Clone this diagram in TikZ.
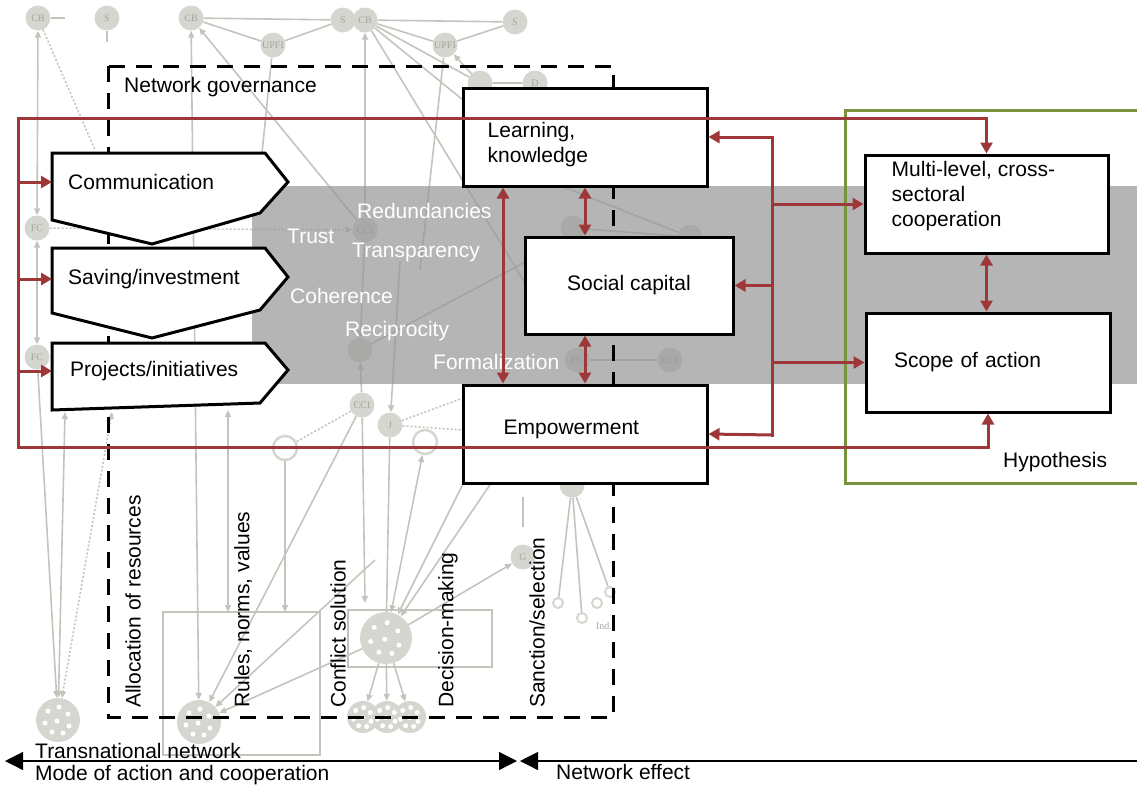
\documentclass[tikz,border=0pt]{standalone}
\usepackage{fontspec}
\setmainfont{Liberation Sans}
\newfontfamily\netfont{Liberation Serif}
\usetikzlibrary{arrows.meta}

\definecolor{netred}{RGB}{158,56,56}
\definecolor{hypgreen}{RGB}{119,147,60}
\definecolor{netgray}{RGB}{196,196,188}
\definecolor{netfill}{RGB}{214,214,208}
\definecolor{nettext}{RGB}{165,165,158}
\definecolor{bandgray}{RGB}{150,150,150}

\tikzset{
  netline/.style={draw=netgray, line width=1.6pt, >={Triangle[length=7pt,width=6pt]}},
  netdots/.style={netline, dash pattern=on 2pt off 2pt},
  netnode/.style={circle, fill=netfill, minimum size=25pt, inner sep=0pt, text=nettext, font=\netfont\fontsize{10}{10}\selectfont},
  netring/.style={circle, draw=netfill, line width=2.5pt, fill=white, minimum size=24pt, inner sep=0pt},
  netblob/.style={circle, fill=netfill, inner sep=0pt},
  govbox/.style={draw, line width=3pt, dash pattern=on 16pt off 11pt},
  pent/.style={draw, line width=3pt, fill=white, line join=miter},
  pentlabel/.style={anchor=west, inner xsep=16pt, inner ysep=0pt},
  effbox/.style={draw, line width=3pt, fill=white, minimum width=244pt, minimum height=98pt, inner sep=0pt},
  boxtext/.style={anchor=west, align=left, inner sep=0pt},
  redline/.style={draw=netred, line width=3pt, >={Triangle[length=11pt,width=12pt]}},
  hypline/.style={draw=hypgreen, line width=3pt},
  bandtext/.style={text=white, anchor=west, inner sep=0pt},
  vlabel/.style={rotate=90, anchor=west, inner sep=0pt},
  lefttext/.style={anchor=west, inner sep=0pt},
  scaleaxis/.style={line width=1.2pt, >={Triangle[length=18pt,width=18pt]}},
}

\begin{document}
\begin{tikzpicture}[x=1pt, y=-1pt, font=\fontsize{21}{25}\selectfont]
  \useasboundingbox (0,0) rectangle (1137,785);
  \clip (0,0) rectangle (1137,785);

  % Faded network in the background
  \node[netnode] (CBa) at (38,18) {CB};
  \node[netnode] (Sa) at (107,18) {S};
  \node[netnode] (CBb) at (191,18) {CB};
  \node[netnode] (UPa) at (273,45) {UPFI};
  \node[netnode] (Sb) at (343,20) {S};
  \node[netnode] (CBc) at (365,20) {CB};
  \node[netnode] (UPb) at (445,45) {UPFI};
  \node[netnode] (Sc) at (515,22) {S};
  \node[netnode] (UE) at (480,83) {};
  \node[netnode] (Da) at (535,83) {D};
  \node[netnode] (FCa) at (37,228) {FC};
  \node[netnode] (FCb) at (37,357) {FC};
  \node[netnode] (CCa) at (365,230) {CCI};
  \node[netnode] (FCc) at (360,350) {};
  \node[netnode] (CCb) at (362,405) {CCI};
  \node[netnode] (Ja) at (390,425) {J};
  \node[netring] (Ra) at (285,448) {};
  \node[netring] (Rb) at (425,442) {};
  \node[netnode] (Ga) at (523,557) {G};
  \node[netnode] (Ka) at (573,228) {};
  \node[netnode] (Kb) at (690,237) {};
  \node[netnode] (FCd) at (577,360) {FC};
  \node[netnode] (CCc) at (670,360) {CCI};
  \node[netnode] (Kc) at (572,485) {};
  \node[netring, minimum size=10pt, line width=2pt] (Ia) at (558,603) {};
  \node[netring, minimum size=10pt, line width=2pt] (Ib) at (582,618) {};
  \node[netring, minimum size=10pt, line width=2pt] (Ic) at (610,592) {};
  \node[netring, minimum size=10pt, line width=2pt] (Id) at (597,603) {};
  \node[text=nettext, font=\netfont\fontsize{10}{10}\selectfont] (IND) at (604,626) {Ind.};
  \node[netblob, minimum size=44pt] (BA) at (58,720) {};
  \node[netblob, minimum size=44pt] (BB) at (199,722) {};
  \node[netblob, minimum size=52pt] (BC) at (386,638) {};
  \node[netblob, minimum size=32pt] (BD) at (363,717) {};
  \node[netblob, minimum size=32pt] (BE) at (387,717) {};
  \node[netblob, minimum size=32pt] (BF) at (410,717) {};
  \foreach \b/\r in {BA/22,BB/22,BC/26,BD/16,BE/16,BF/16}
    \foreach \dx/\dy in {-10/-9,1/-13,10/-6,-13/3,-1/1,11/6,-6/12,5/13}
      \fill[white] (\b) ++(\dx*\r/22,\dy*\r/22) circle (2.5pt);

  \coordinate (ea) at (65,18);
  \coordinate (eb) at (107,42);
  \coordinate (ec) at (95,150);
  \coordinate (ed) at (262,153);
  \coordinate (ee) at (420,270);
  \coordinate (ef) at (463,100);
  \coordinate (eg) at (470,150);
  \coordinate (eh) at (525,283);
  \coordinate (ei) at (525,262);
  \coordinate (ej) at (65,412);
  \coordinate (ek) at (112,412);
  \coordinate (el) at (228,410);
  \coordinate (em) at (228,612);
  \coordinate (en) at (285,612);
  \coordinate (eo) at (365,603);
  \coordinate (ep) at (400,262);
  \coordinate (eq) at (470,470);
  \coordinate (er) at (500,470);
  \coordinate (es) at (375,560);
  \coordinate (et) at (523,497);
  \coordinate (eu) at (523,527);
  \coordinate (ev) at (463,398);
  \coordinate (ew) at (463,430);

  \draw[netline] (163,612) rectangle (320,755);
  \draw[netline] (348,610) rectangle (492,667);

  \draw[netline] (CBa) -- (ea);
  \draw[netline] (Sa) -- (eb);
  \draw[netdots] (CBa) -- (ec);
  \draw[netline] (CBb) -- (Sb);
  \draw[netline] (CBb) -- (UPa) -- (Sb);
  \draw[netline] (UPa) -- (ed);
  \draw[netline] (CBc) -- (Sc);
  \draw[netline] (CBc) -- (UPb) -- (Sc);
  \draw[netline] (UPb) -- (ee);
  \draw[netline] (CBc) -- (UE) -- (Da);
  \draw[netline,->] (UE) -- (UPb);
  \draw[netline] (CBc) -- (ef);
  \draw[netline] (CBc) -- (eh);
  \draw[netline] (eg) -- (Kb);
  \draw[netline] (ei) -- (FCc);
  \draw[netline] (FCd) -- (CCc);
  \draw[netline] (Ka) -- (Kb);
  \draw[netline,<->] (FCa) -- (CBa);
  \draw[netline,<->] (FCa) -- (FCb);
  \draw[netline,->] (FCb) -- (BA);
  \draw[netline,<->] (ej) -- (BA);
  \draw[netdots,<->] (ek) -- (BA);
  \draw[netdots,->] (FCa) -- (CCa);
  \draw[netline,->] (CCa) -- (CBb);
  \draw[netline,->] (CCa) -- (CBc);
  \draw[netline,->] (CCa) -- (FCc);
  \draw[netline,->] (CCb) -- (FCc);
  \draw[netline,<->] (CBb) -- (BB);
  \draw[netline,<->] (el) -- (em);
  \draw[netline,->] (Ra) -- (en);
  \draw[netdots] (CCb) -- (Ra);
  \draw[netline,->] (CCb) -- (BB);
  \draw[netline,->] (CCb) -- (eo);
  \draw[netline,->] (ep) -- (Ja);
  \draw[netdots] (Ja) -- (ev);
  \draw[netdots] (Ja) -- (ew);
  \draw[netline] (Ja) -- (BC);
  \draw[netline,<->] (BC) -- (Rb);
  \draw[netline,->] (BC) -- (Ga);
  \draw[netline,->] (eq) -- (BC);
  \draw[netline,->] (er) -- (BC);
  \draw[netline,->] (BC) -- (BB);
  \draw[netline,->] (es) -- (BB);
  \draw[netline,->] (BC) -- (BD);
  \draw[netline,->] (BC) -- (BE);
  \draw[netline,->] (BC) -- (BF);
  \draw[netline] (Kc) -- (Ia);
  \draw[netline] (Kc) -- (Ib);
  \draw[netline] (Kc) -- (Ic);
  \draw[netline] (et) -- (eu);

  % Grey band and the governance frame
  \fill[bandgray, opacity=0.7] (252,186) rectangle (1137,384);
  \draw[govbox] (108,66) rectangle (613,717);
  \node[lefttext] (NG) at (124,87) {Network governance};

  % Modes of action
  \draw[pent] (52,153) -- (265,153) -- (288,182) -- (260,213) -- (152,244) -- (52,220) -- cycle;
  \draw[pent] (52,248) -- (265,248) -- (288,277) -- (260,310) -- (152,338) -- (52,313) -- cycle;
  \draw[pent] (52,343) -- (265,343) -- (288,370) -- (260,403) -- (52,410) -- cycle;
  \node[pentlabel] (COM) at (52,182) {Communication};
  \node[pentlabel] (SAV) at (52,279) {Saving/investment};
  \node[pentlabel, inner xsep=18pt] (PRO) at (52,371) {Projects/initiatives};

  % Texts on the band
  \node[bandtext] (TRU) at (287,236) {Trust};
  \node[bandtext] (RED) at (357,211) {Redundancies};
  \node[bandtext] (TRA) at (352,252) {Transparency};
  \node[bandtext] (COH) at (290,296) {Coherence};
  \node[bandtext] (REC) at (345,331) {Reciprocity};
  \node[bandtext] (FOR) at (433,362) {Formalization};

  % Hypothesis frame
  \coordinate (HTR) at (1145,110);
  \coordinate (HTL) at (845,110);
  \coordinate (HBL) at (845,483);
  \coordinate (HBR) at (1145,483);
  \draw[hypline] (HTR) -- (HTL) -- (HBL) -- (HBR);
  \node[lefttext] (HYP) at (1003,462) {Hypothesis};

  % Network effects
  \node[effbox] (LK) at (585,137) {};
  \node[boxtext] (LKT) at ([xshift=26pt,yshift=-8pt]LK.west) {Learning,\\knowledge};
  \node[effbox, minimum width=208pt, minimum height=97pt] (SC) at (629,285.5) {Social capital};
  \node[effbox] (EMP) at (585,434) {};
  \node[boxtext] (EMPT) at ([xshift=42pt,yshift=5pt]EMP.west) {Empowerment};
  \node[effbox, minimum width=243pt] (MLC) at (986.5,204) {};
  \node[boxtext] (MLCT) at ([xshift=28pt,yshift=8pt]MLC.west) {Multi-level, cross-\\sectoral\\cooperation};
  \node[effbox, minimum height=99pt, text width=188pt, align=left] (SOA) at (988,362.5) {Scope of action};

  % Draw arrows
  \coordinate (RTL) at (18,118);
  \coordinate (RBL) at (18,447);
  \coordinate (RTR) at (772,137);
  \coordinate (RBR) at (772,435);
  \draw[redline, line cap=rect] (RTL) -- (RBL);
  \draw[redline,->] (RTL) -| (MLC.north);
  \draw[redline,->] (RBL) -| (SOA.south);
  \foreach \n in {COM,SAV,PRO}
    \draw[redline,->] (RTL |- \n.west) -- (\n.west);
  \draw[redline, line cap=rect] (RTR) -- (RBR);
  \draw[redline,->] (RTR) -- (LK.east);
  \draw[redline,->] (RTR |- SC.east) -- (SC.east);
  \draw[redline,->] (RBR) -- (EMP.east);
  \draw[redline,->] (RTR |- MLC.west) -- (MLC.west);
  \draw[redline,->] (RTR |- SOA.west) -- (SOA.west);
  \draw[redline,<->] ([xshift=-82pt]LK.south) -- ([xshift=-82pt]EMP.north);
  \draw[redline,<->] (LK.south) -- (LK.south |- SC.north);
  \draw[redline,<->] (EMP.north |- SC.south) -- (EMP.north);
  \draw[redline,<->] (MLC.south) -- (MLC.south |- SOA.north);

  % Governance functions
  \node[vlabel] (ALL) at (133,708) {Allocation of resources};
  \node[vlabel] (RUL) at (243,708) {Rules, norms, values};
  \node[vlabel] (CON) at (338,708) {Conflict solution};
  \node[vlabel] (DEC) at (448,708) {Decision-making};
  \node[vlabel] (SAN) at (537,708) {Sanction/selection};

  % Scale at the bottom
  \coordinate (AXL) at (5,761);
  \coordinate (AXM) at (517,761);
  \coordinate (AXN) at (520,761);
  \coordinate (AXR) at (1145,761);
  \draw[scaleaxis,<->] (AXL) -- (AXM);
  \draw[scaleaxis,<-] (AXN) -- (AXR);
  \node[lefttext] (TN) at (35,751) {Transnational network};
  \node[lefttext] (MAC) at (35,775) {Mode of action and cooperation};
  \node[lefttext] (NE) at (556,772) {Network effect};
\end{tikzpicture}
\end{document}
